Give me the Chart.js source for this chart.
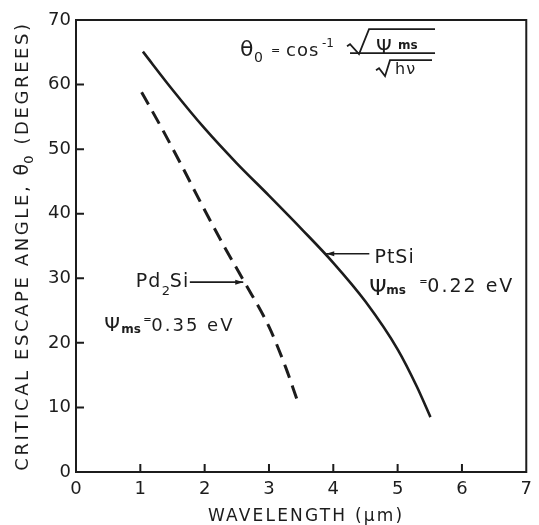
<!DOCTYPE html>
<html>
<head>
<meta charset="utf-8">
<script src="https://cdn.jsdelivr.net/npm/chart.js@4.4.0/dist/chart.umd.min.js"></script>
<style>
  html, body { margin: 0; padding: 0; background: #fff; }
  #wrap { width: 539px; height: 525px; }
</style>
</head>
<body>
<div id="wrap"><canvas id="chart"></canvas></div>
<script>
// values: wavelength (um) -> critical escape angle (deg)
const ptsiWavelength = [1.04, 1.5, 2.0, 2.5, 3.0, 3.5, 4.0, 4.5, 5.0, 5.3, 5.51];
const ptsiAngle      = [65.1, 59.2, 53.2, 47.8, 42.8, 37.7, 32.4, 26.4, 19.0, 13.2, 8.5];
const pd2siWavelength = [1.02, 1.33, 1.63, 1.94, 2.30, 2.62, 3.00, 3.26, 3.43];
const pd2siAngle      = [58.8, 53.3, 47.7, 41.7, 35.0, 29.4, 22.5, 16.2, 11.4];
const xTicks = [0, 1, 2, 3, 4, 5, 6, 7];
const yTicks = [0, 10, 20, 30, 40, 50, 60, 70];

// where the labels sit, in data units
const notes = {
  formula: [2.55, 64.4],
  ptsi: [4.64, 32.3],
  ptsiArrow: [4.56, 3.89, 33.8],
  ptsiPsi: [4.56, 27.35],
  pd2si: [0.93, 28.6],
  pd2siArrow: [1.77, 2.6, 29.4],
  pd2siPsi: [0.44, 21.9]
};

const ink = '#1c1c1c';
const fam = '"DejaVu Sans", sans-serif';

function font(size, weight) {
  return (weight || 'normal') + ' ' + size + 'px ' + fam;
}

// draw text pieces at offsets from an anchor
function pieces(ctx, x0, y0, parts) {
  parts.forEach(p => {
    ctx.font = font(p.size, p.weight);
    ctx.letterSpacing = (p.ls || 0) + 'px';
    ctx.fillText(p.t, x0 + (p.dx || 0), y0 + (p.dy || 0));
  });
  ctx.letterSpacing = '0px';
}

function poly(ctx, x0, y0, pts) {
  ctx.beginPath();
  pts.forEach((p, i) => i ? ctx.lineTo(x0 + p[0], y0 + p[1]) : ctx.moveTo(x0 + p[0], y0 + p[1]));
  ctx.stroke();
}

function arrow(ctx, xFrom, xTo, y) {
  ctx.beginPath();
  ctx.moveTo(xFrom, y);
  ctx.lineTo(xTo, y);
  ctx.stroke();
  const d = xTo > xFrom ? 1 : -1;
  ctx.beginPath();
  ctx.moveTo(xTo, y);
  ctx.lineTo(xTo - d * 8, y - 2.5);
  ctx.lineTo(xTo - d * 8, y + 2.5);
  ctx.closePath();
  ctx.fill();
}

// measure a run of pieces laid end to end
function runWidth(ctx, parts) {
  let w = 0;
  parts.forEach(p => {
    ctx.font = font(p.size);
    ctx.letterSpacing = (p.ls || 0) + 'px';
    w += ctx.measureText(p.t).width;
  });
  ctx.letterSpacing = '0px';
  return w;
}

function drawRun(ctx, x, y, parts) {
  parts.forEach(p => {
    ctx.font = font(p.size);
    ctx.letterSpacing = (p.ls || 0) + 'px';
    ctx.fillText(p.t, x, y + (p.dy || 0));
    x += ctx.measureText(p.t).width;
  });
  ctx.letterSpacing = '0px';
}

const decor = {
  id: 'decor',
  afterDraw(chart) {
    const { ctx, chartArea: a } = chart;
    const xs = chart.scales.x, ys = chart.scales.y;
    const X = v => xs.getPixelForValue(v), Y = v => ys.getPixelForValue(v);

    ctx.save();
    ctx.strokeStyle = ink;
    ctx.fillStyle = ink;
    ctx.lineWidth = 2;
    ctx.strokeRect(a.left, a.top, a.right - a.left, a.bottom - a.top);

    // inward tick marks
    ctx.beginPath();
    yTicks.slice(1, -1).forEach(v => { ctx.moveTo(a.left, Y(v)); ctx.lineTo(a.left + 8, Y(v)); });
    xTicks.slice(1, -1).forEach(v => { ctx.moveTo(X(v), a.bottom); ctx.lineTo(X(v), a.bottom - 8); });
    ctx.stroke();

    ctx.textBaseline = 'alphabetic';
    ctx.textAlign = 'left';

    // axis titles
    const xTitle = [{ t: 'WAVELENGTH (\u03bcm)', size: 17, ls: 2.2 }];
    const xw = runWidth(ctx, xTitle);
    drawRun(ctx, (a.left + a.right) / 2 + 5 - xw / 2, 521, xTitle);

    const yTitle = [
      { t: 'CRITICAL ESCAPE ANGLE, ', size: 18, ls: 2.6 },
      { t: '\u03b8', size: 19, ls: 0 },
      { t: '0', size: 13, dy: 5, ls: 2.6 },
      { t: ' (DEGREES)', size: 18, ls: 2.6 }
    ];
    const yw = runWidth(ctx, yTitle);
    ctx.save();
    ctx.translate(28, (a.top + a.bottom) / 2);
    ctx.rotate(-Math.PI / 2);
    drawRun(ctx, -yw / 2, 0, yTitle);
    ctx.restore();

    // formula
    const fx = X(notes.formula[0]), fy = Y(notes.formula[1]);
    pieces(ctx, fx, fy, [
      { t: '\u03b8', size: 22 },
      { t: '0', dx: 14, dy: 6, size: 14 },
      { t: '=', dx: 31, dy: -2, size: 11 },
      { t: 'cos', dx: 46, size: 18, ls: 1 },
      { t: '-1', dx: 82, dy: -9, size: 12 },
      { t: '\u03a8', dx: 136, dy: -3, size: 20 },
      { t: 'ms', dx: 158, dy: -7, size: 12, weight: 'bold' },
      { t: 'h\u03bd', dx: 155, dy: 18, size: 16, ls: 1 }
    ]);
    ctx.lineWidth = 1.8;
    poly(ctx, fx, fy, [[107, -10], [110, -12], [119, -2], [129, -27], [195, -27]]);
    poly(ctx, fx, fy, [[110, -3], [195, -3]]);
    poly(ctx, fx, fy, [[136, 14], [139, 12], [145, 20], [150, 4], [192, 4]]);

    // PtSi label and arrow
    pieces(ctx, X(notes.ptsi[0]), Y(notes.ptsi[1]), [{ t: 'PtSi', size: 19, ls: 1 }]);
    ctx.lineWidth = 1.6;
    arrow(ctx, X(notes.ptsiArrow[0]), X(notes.ptsiArrow[1]), Y(notes.ptsiArrow[2]));
    pieces(ctx, X(notes.ptsiPsi[0]), Y(notes.ptsiPsi[1]), [
      { t: '\u03a8', size: 22 },
      { t: 'ms', dx: 17, dy: -1, size: 12, weight: 'bold' },
      { t: '=', dx: 50, dy: -10, size: 10 },
      { t: '0.22 eV', dx: 58, dy: -3, size: 19, ls: 2 }
    ]);

    // Pd2Si label and arrow
    pieces(ctx, X(notes.pd2si[0]), Y(notes.pd2si[1]), [
      { t: 'Pd', size: 19, ls: 1 },
      { t: '2', dx: 26, dy: 8, size: 13 },
      { t: 'Si', dx: 34, size: 19, ls: 1 }
    ]);
    arrow(ctx, X(notes.pd2siArrow[0]), X(notes.pd2siArrow[1]), Y(notes.pd2siArrow[2]));
    pieces(ctx, X(notes.pd2siPsi[0]), Y(notes.pd2siPsi[1]), [
      { t: '\u03a8', size: 20 },
      { t: 'ms', dx: 17, dy: 2, size: 12, weight: 'bold' },
      { t: '=', dx: 39, dy: -8, size: 10 },
      { t: '0.35 eV', dx: 47, size: 18, ls: 2 }
    ]);

    ctx.restore();
  }
};

new Chart(document.getElementById('chart'), {
  type: 'scatter',
  data: {
    datasets: [
      {
        label: 'PtSi',
        data: ptsiWavelength.map((w, i) => ({ x: w, y: ptsiAngle[i] })),
        showLine: true,
        borderColor: ink,
        borderWidth: 2.6,
        pointRadius: 0,
        cubicInterpolationMode: 'monotone'
      },
      {
        label: 'Pd2Si',
        data: pd2siWavelength.map((w, i) => ({ x: w, y: pd2siAngle[i] })),
        showLine: true,
        borderColor: ink,
        borderWidth: 3,
        borderDash: [14, 8],
        pointRadius: 0,
        cubicInterpolationMode: 'monotone'
      }
    ]
  },
  options: {
    responsive: true,
    maintainAspectRatio: false,
    animation: false,
    layout: { padding: { top: 20, right: 4, left: 0, bottom: 0 } },
    plugins: { legend: { display: false }, tooltip: { enabled: false } },
    scales: {
      x: {
        type: 'linear',
        min: 0,
        max: 7,
        afterBuildTicks: s => { s.ticks = xTicks.map(v => ({ value: v })); },
        afterFit: s => { s.height = 53; },
        grid: { display: false, drawTicks: false },
        border: { display: false },
        ticks: { color: ink, padding: 7, font: { family: fam, size: 18 } }
      },
      y: {
        type: 'linear',
        min: 0,
        max: 70,
        afterBuildTicks: s => { s.ticks = yTicks.map(v => ({ value: v })); },
        afterFit: s => { s.width = 76; },
        grid: { display: false, drawTicks: false },
        border: { display: false },
        ticks: { color: ink, padding: 5, font: { family: fam, size: 18 } }
      }
    }
  },
  plugins: [decor]
});
</script>
</body>
</html>
